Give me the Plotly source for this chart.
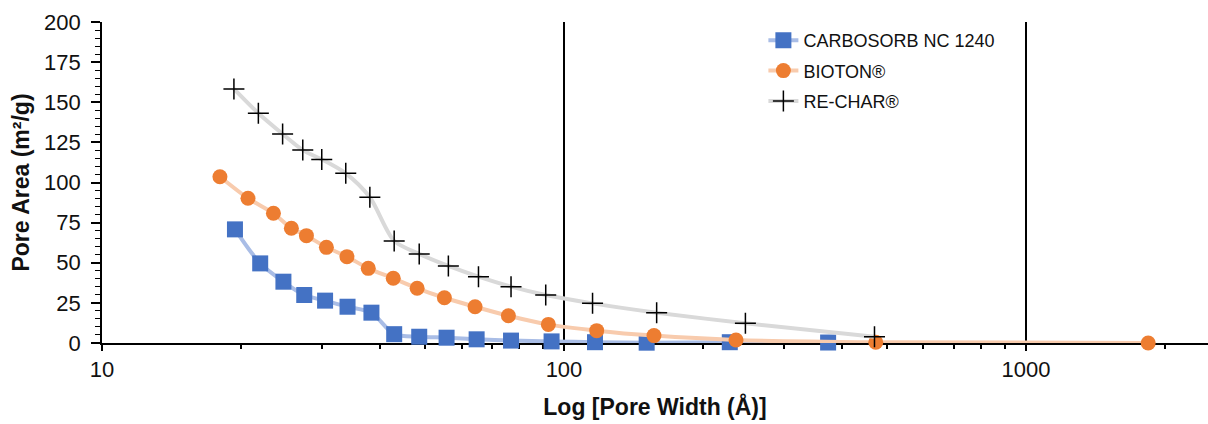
import plotly.graph_objects as go

# Pore size distribution (pore area vs pore width)
carbosorb_width = [19.4, 22.0, 24.7, 27.4, 30.4, 34.0, 38.3, 42.9, 48.6, 55.7, 64.7, 76.8, 94.0, 116.7, 151, 228.5, 373]
carbosorb_area = [70.8, 49.6, 38.2, 29.9, 26.4, 22.6, 18.9, 5.5, 3.9, 3.3, 2.3, 1.5, 1.0, 0.5, 0.2, 0.5, 0.3]

bioton_width = [18.0, 20.7, 23.5, 25.7, 27.7, 30.6, 33.9, 37.7, 42.7, 48.1, 55.1, 64.2, 75.8, 92.5, 117.7, 156.6, 235.7, 473, 1839]
bioton_area = [103.6, 90.2, 80.8, 71.5, 66.9, 59.6, 53.8, 46.5, 40.3, 34.1, 28.2, 22.6, 17.0, 11.6, 7.7, 4.6, 1.9, 0.5, 0.0]

rechar_width = [19.3, 21.8, 24.6, 27.2, 29.9, 33.7, 38.0, 42.9, 48.6, 56.2, 65.3, 76.8, 91.3, 115.3, 158.7, 247, 470]
rechar_area = [158.3, 143.1, 130.2, 120.2, 114.4, 105.7, 90.8, 63.6, 55.5, 48.0, 41.3, 35.1, 29.9, 24.7, 18.9, 12.3, 3.9]

x_ticks = [10, 100, 1000]
# minor ticks at 2..9 within each decade
x_minor_ticks = [m * d for d in (10, 100, 1000) for m in range(2, 10)]

FONT = "Liberation Sans, Arial, sans-serif"
INK = "#111111"

fig = go.Figure()

fig.add_trace(go.Scatter(
    x=carbosorb_width, y=carbosorb_area, name="CARBOSORB NC 1240",
    mode="lines+markers", legendgroup="a", cliponaxis=False,
    line=dict(color="#A9BDE6", width=4, shape="spline", smoothing=0.8),
    marker=dict(symbol="square", size=16, color="#4472C4"),
))
fig.add_trace(go.Scatter(
    x=bioton_width, y=bioton_area, name="BIOTON®",
    mode="lines+markers", legendgroup="b", cliponaxis=False,
    line=dict(color="#F8CBAD", width=4, shape="spline", smoothing=0.8),
    marker=dict(symbol="circle", size=15, color="#ED7D31"),
))
fig.add_trace(go.Scatter(
    x=rechar_width, y=rechar_area, name="RE-CHAR®",
    mode="lines+markers", legendgroup="c", cliponaxis=False,
    line=dict(color="#D9D9D9", width=4, shape="spline", smoothing=0.8),
    marker=dict(symbol="cross-thin", size=15, color="black",
                line=dict(color="black", width=1.5)),
))

fig.update_layout(
    width=1208, height=424,
    margin=dict(l=102, r=0, t=22, b=81),
    paper_bgcolor="white", plot_bgcolor="white",
    font=dict(family=FONT, color=INK),
    showlegend=True,
    legend=dict(
        x=0.598, y=1.0, xanchor="left", yanchor="top",
        font=dict(family=FONT, size=18, color=INK),
        bgcolor="rgba(255,255,255,0)", tracegroupgap=4,
    ),
)

fig.update_xaxes(
    type="log", range=[1, 3.394],
    tickvals=x_ticks, ticktext=[str(v) for v in x_ticks],
    tickfont=dict(size=22, family=FONT, color=INK),
    showgrid=True, gridcolor="black", gridwidth=1.5,
    showline=True, linecolor="black", linewidth=1.8,
    ticks="outside", ticklen=6, tickcolor="black", tickwidth=1.5,
    minor=dict(tickvals=x_minor_ticks, ticks="outside", ticklen=4,
               tickcolor="black", tickwidth=1.5, showgrid=False),
    zeroline=False, layer="below traces",
    title=dict(text="<b>Log [Pore Width (Å)]</b>", standoff=18,
               font=dict(size=23, family=FONT, color=INK)),
)

fig.update_yaxes(
    range=[0, 200], dtick=25,
    tickfont=dict(size=22, family=FONT, color=INK),
    ticklabelstandoff=6,
    showgrid=False,
    showline=True, linecolor="black", linewidth=1.8,
    ticks="outside", ticklen=9, tickcolor="black", tickwidth=1.5,
    minor=dict(dtick=5, ticks="outside", ticklen=5, tickcolor="black",
               tickwidth=1.2, showgrid=False),
    zeroline=False, layer="below traces",
    title=dict(text="<b>Pore Area (m²/g)</b>", standoff=8,
               font=dict(size=23, family=FONT, color=INK)),
)

fig.write_html("out.html")
